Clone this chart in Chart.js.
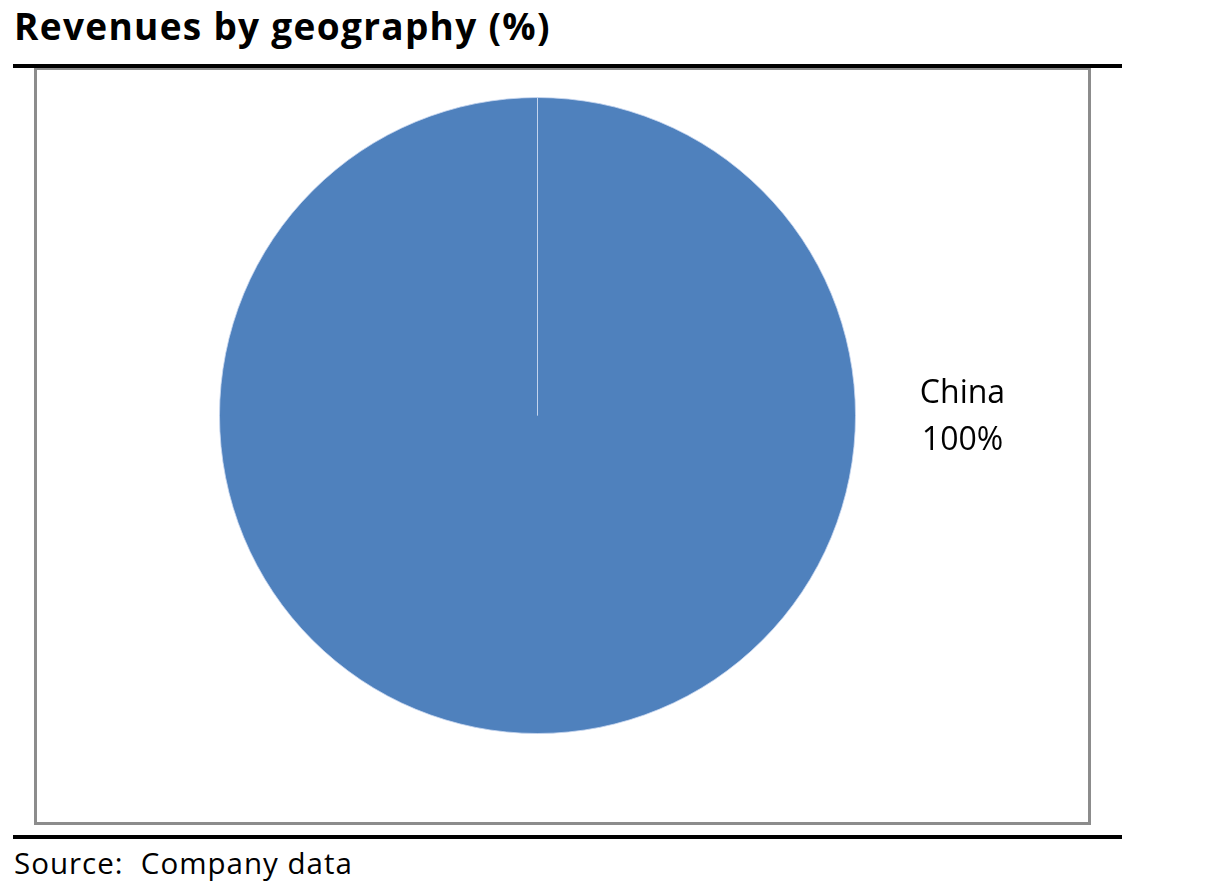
<!DOCTYPE html>
<html>
<head>
<meta charset="utf-8">
<script src="https://cdn.jsdelivr.net/npm/chart.js@4/dist/chart.umd.min.js"></script>
<style>
  body { margin: 0; background: #fff; width: 1205px; height: 891px; position: relative; overflow: hidden; font-family: "Open Sans", sans-serif; }
  #title { position: absolute; left: 14px; top: 0px; font-size: 37px; letter-spacing: 1.3px; font-weight: bold; color: #000; white-space: nowrap; }
  .rule { position: absolute; left: 13px; width: 1109px; height: 4px; background: #000; }
  #box { position: absolute; left: 34px; top: 68px; width: 1051px; height: 752px; border: 3px solid #8c8c8c; border-top-width: 2px; }
  #wrap { position: absolute; left: 37px; top: 70px; width: 1051px; height: 752px; }
  #source { position: absolute; left: 14px; top: 842px; font-size: 29.5px; letter-spacing: 1px; color: #000; white-space: pre; }
</style>
</head>
<body>
<div id="title">Revenues by geography (%)</div>
<div class="rule" style="top:64px"></div>
<div id="box"></div>
<div id="wrap"><canvas id="chart"></canvas></div>
<div class="rule" style="top:835px"></div>
<div id="source">Source:  Company data</div>
<script>
const regions = ['China']
const shares = [100]
const sliceColors = ['#4F81BD']

// draws "China / 100%" to the right of the pie like the excel data label
const sideLabels = {
    id: 'sideLabels',
    afterDatasetsDraw(chart) {
        const ctx = chart.ctx
        const arc = chart.getDatasetMeta(0).data[0]
        const x = arc.x + arc.outerRadius + 107
        const y = arc.y
        ctx.save()
        ctx.fillStyle = '#000'
        ctx.font = '32px "Open Sans"'
        ctx.textAlign = 'center'
        ctx.textBaseline = 'middle'
        for (let i = 0; i < regions.length; i++) {
            ctx.fillText(regions[i], x, y - 22)
            ctx.fillText(shares[i] + '%', x, y + 25)
        }
        ctx.restore()
    }
}

const chart = new Chart(
    document.getElementById('chart'),
    {
        type: 'pie',
        data: {
            labels: regions,
            datasets: [
                {
                    data: shares,
                    backgroundColor: sliceColors,
                    borderColor: 'rgba(200,215,240,0.8)',
                    borderWidth: 1
                }
            ]
        },
        options: {
            responsive: true,
            maintainAspectRatio: false,
            animation: false,
            layout: {
                padding: { left: 182, right: 232, top: 27, bottom: 88 }
            },
            plugins: {
                legend: { display: false },
                tooltip: { enabled: false }
            }
        },
        plugins: [sideLabels]
    })
</script>
</body>
</html>
